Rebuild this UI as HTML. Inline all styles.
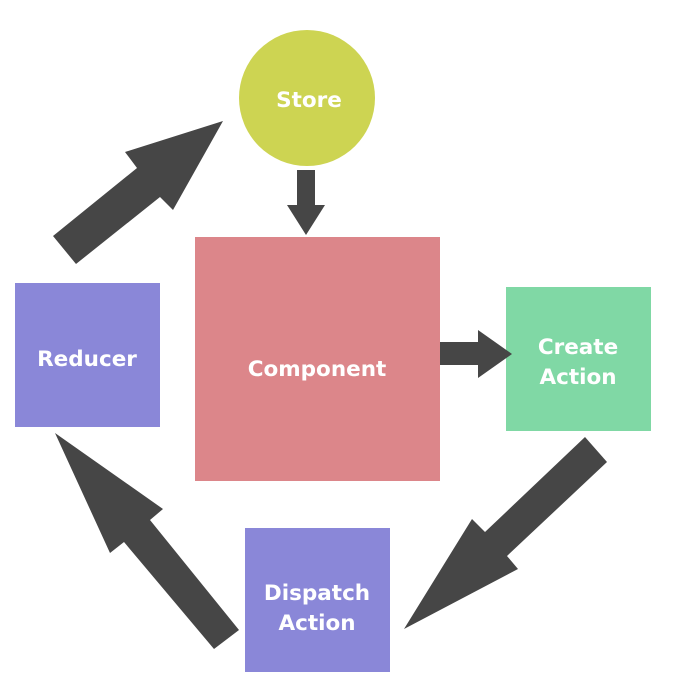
<!DOCTYPE html>
<html><head><style>
html,body{margin:0;padding:0;background:#fff;width:700px;height:700px;overflow:hidden}
</style></head><body>
<svg width="700" height="700" xmlns="http://www.w3.org/2000/svg" font-family="DejaVu Sans, Liberation Sans, sans-serif" font-weight="bold" font-size="21.5" fill="#fff">
<rect width="700" height="700" fill="#fff"/>
<circle cx="307" cy="98" r="68" fill="#cdd452"/>
<rect x="195" y="237" width="245" height="244" fill="#dc868a"/>
<rect x="15" y="283" width="145" height="144" fill="#8a87d8"/>
<rect x="506" y="287" width="145" height="144" fill="#80d8a5"/>
<rect x="245" y="528" width="145" height="144" fill="#8a87d8"/>
<g fill="#464646">
<polygon points="53,236 137,168 125,152 223,121 173,210 160,197 76,264"/>
<polygon points="55,433 163,509 150,520 239,630 214,649 124,542 110,553"/>
<polygon points="585,437 607,462 507,556 518,569 404,629 472,519 485,532"/>
<polygon points="297,170 315,170 315,205 325,205 306,235 287,205 297,205"/>
<polygon points="440,342 478,342 478,330 512,354 478,378 478,365 440,365"/>
</g>
<text x="309" y="107" text-anchor="middle">Store</text>
<text x="317" y="376" text-anchor="middle">Component</text>
<text x="87" y="366" text-anchor="middle">Reducer</text>
<text x="578" y="354" text-anchor="middle">Create</text>
<text x="578" y="384" text-anchor="middle">Action</text>
<text x="317" y="600" text-anchor="middle">Dispatch</text>
<text x="317" y="630" text-anchor="middle">Action</text>
</svg>
</body></html>
